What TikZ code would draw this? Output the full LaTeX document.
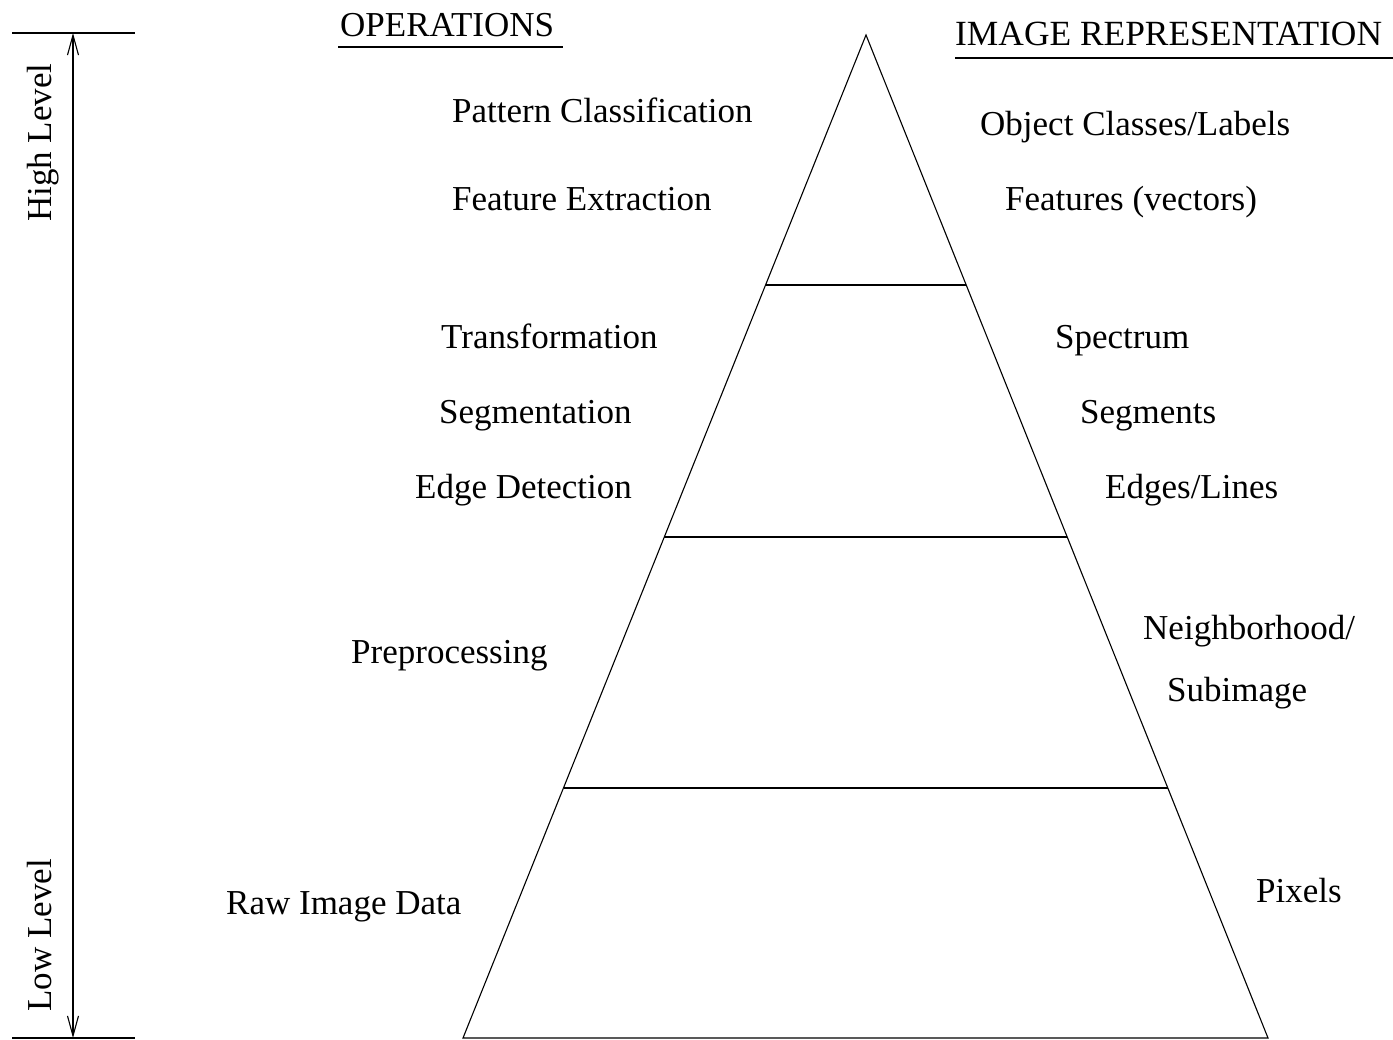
\documentclass[tikz,border=0pt]{standalone}
\usepackage{fontspec}
\setmainfont{Liberation Serif}
\usetikzlibrary{arrows.meta}
\begin{document}
\begin{tikzpicture}[x=1pt,y=-1pt,
  lbl/.style={anchor=base west,inner sep=0pt,font=\fontsize{35}{42}\selectfont},
  ln/.style={line width=1.1pt},
  bigarrow/.style={line width=1.1pt,{Straight Barb[length=20pt,width=11pt]}-{Straight Barb[length=20pt,width=11pt]}}]
\useasboundingbox (0,0) rectangle (1393,1040);
% pyramid
\coordinate (apex) at (866,35);
\coordinate (bl) at (463,1038);
\coordinate (br) at (1268,1038);
\coordinate (l1) at (765.5,285); \coordinate (r1) at (966.2,285);
\coordinate (l2) at (664.3,537); \coordinate (r2) at (1067.2,537);
\coordinate (l3) at (563.5,788); \coordinate (r3) at (1167.8,788);
\draw[ln] (apex) -- (bl) -- (br) -- cycle;
\draw[ln] (l1) -- (r1);
\draw[ln] (l2) -- (r2);
\draw[ln] (l3) -- (r3);
% level axis
\coordinate (tl) at (12,33); \coordinate (tr) at (135,33);
\coordinate (bL) at (12,1038); \coordinate (bR) at (135,1038);
\coordinate (atop) at (73,33); \coordinate (abot) at (73,1038);
\draw[ln] (tl) -- (tr);
\draw[ln] (bL) -- (bR);
\draw[bigarrow] (abot) -- (atop);
\node[lbl,rotate=90] (high) at (51,222) {High Level};
\node[lbl,rotate=90] (low) at (51,1012) {Low Level};
% headers
\node[lbl] (ops) at (340,37) {OPERATIONS};
\node[lbl,font=\fontsize{35.4}{42}\selectfont] (rep) at (955,46) {IMAGE REPRESENTATION};
\coordinate (u1a) at (338,47); \coordinate (u1b) at (563,47);
\coordinate (u2a) at (955,58); \coordinate (u2b) at (1393,58);
\draw[ln] (u1a) -- (u1b);
\draw[ln] (u2a) -- (u2b);
% operations
\node[lbl] (pc) at (452,123) {Pattern Classification};
\node[lbl] (fe) at (452,211) {Feature Extraction};
\node[lbl] (tr1) at (441,349) {Transformation};
\node[lbl] (sg) at (439,424) {Segmentation};
\node[lbl] (ed) at (415,499) {Edge Detection};
\node[lbl] (pp) at (351,663) {Preprocessing};
\node[lbl] (rd) at (226,914) {Raw Image Data};
% representations
\node[lbl] (oc) at (980,136) {Object Classes/Labels};
\node[lbl] (fv) at (1005,211) {Features (vectors)};
\node[lbl] (sp) at (1055,349) {Spectrum};
\node[lbl] (sm) at (1080,424) {Segments};
\node[lbl] (el) at (1105,499) {Edges/Lines};
\node[lbl] (nb) at (1143,639) {Neighborhood/};
\node[lbl] (si) at (1167,701) {Subimage};
\node[lbl] (px) at (1256,902) {Pixels};
\end{tikzpicture}
\end{document}
